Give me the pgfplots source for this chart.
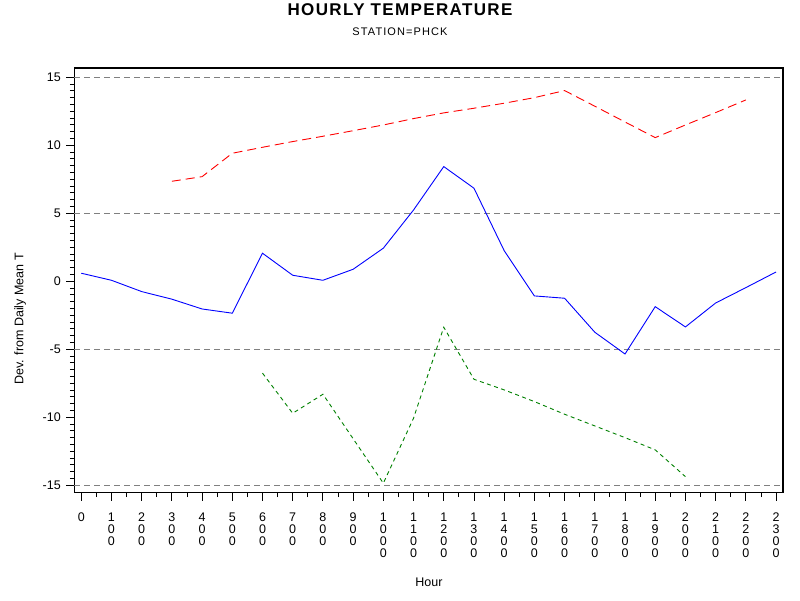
\documentclass[border=0pt]{standalone}
\usepackage{fontspec}
\setmainfont{Liberation Sans}
\usepackage{pgfplots}
\pgfplotsset{compat=1.18}
\definecolor{sasred}{RGB}{255,0,0}
\definecolor{sasblue}{RGB}{0,0,255}
\definecolor{sasgreen}{RGB}{0,128,0}
\definecolor{refgray}{RGB}{128,128,128}
\begin{document}
\begin{tikzpicture}[x=1pt,y=1pt]
\path[use as bounding box] (0,0) rectangle (800,600);
\begin{axis}[
  at={(74.3pt,107.3pt)}, anchor=south west,
  scale only axis, width=708.7pt, height=424.7pt,
  xmin=-23, xmax=2323, ymin=-15.55, ymax=15.68,
  xtick={0,100,...,2300},
  xticklabels={0,{1\\0\\0},{2\\0\\0},{3\\0\\0},{4\\0\\0},{5\\0\\0},{6\\0\\0},{7\\0\\0},{8\\0\\0},{9\\0\\0},
    {1\\0\\0\\0},{1\\1\\0\\0},{1\\2\\0\\0},{1\\3\\0\\0},{1\\4\\0\\0},{1\\5\\0\\0},{1\\6\\0\\0},{1\\7\\0\\0},
    {1\\8\\0\\0},{1\\9\\0\\0},{2\\0\\0\\0},{2\\1\\0\\0},{2\\2\\0\\0},{2\\3\\0\\0}},
  ytick={-15,-10,...,15},
  minor x tick num=1, minor y tick num=9,
  xtick pos=bottom, ytick pos=left,
  tick align=outside,
  major tick length=8pt, minor tick length=4.5pt,
  tick style={black, line width=0.9pt},
  axis line style={line width=1.1pt},
  tick label style={font=\fontsize{12.5}{12}\selectfont},
  xticklabel style={align=center, anchor=north, yshift=-9pt},
  yticklabel style={xshift=-2pt},
  /pgf/number format/assume math mode=true,
  extra y ticks={-15,-5,5,15},
  extra y tick labels={},
  extra y tick style={grid=major, major tick length=0pt,
    major grid style={refgray, dash pattern=on 6pt off 4pt, line width=0.9pt}},
]
% mean deviation
\addplot[sasblue, line width=0.9pt] coordinates {
(0,0.59) (100,0.07) (200,-0.76) (300,-1.32) (400,-2.04) (500,-2.35)
(600,2.06) (700,0.44) (800,0.07) (900,0.88) (1000,2.43) (1100,5.24)
(1200,8.43) (1300,6.84) (1400,2.25) (1500,-1.08) (1600,-1.25) (1700,-3.75)
(1800,-5.35) (1900,-1.87) (2000,-3.36) (2100,-1.60) (2200,-0.47) (2300,0.68)};
% upper
\addplot[sasred, line width=0.9pt, dash pattern=on 9pt off 5pt] coordinates {
(300,7.35) (400,7.69) (500,9.41) (600,9.85) (700,10.27) (800,10.66)
(900,11.07) (1000,11.49) (1100,11.96) (1200,12.38) (1300,12.72) (1400,13.09)
(1500,13.50) (1600,14.02) (1700,12.87) (1800,11.71) (1900,10.56) (2000,11.49)
(2100,12.40) (2200,13.33)};
% lower
\addplot[sasgreen, line width=0.9pt, dash pattern=on 4pt off 3.5pt] coordinates {
(600,-6.76) (700,-9.71) (800,-8.31) (900,-11.58) (1000,-14.85) (1100,-10.07)
(1200,-3.38) (1300,-7.21) (1400,-7.99) (1500,-8.85) (1600,-9.78) (1700,-10.64)
(1800,-11.50) (1900,-12.40) (2000,-14.37)};
\end{axis}
\node[anchor=base, font=\fontsize{17}{20}\selectfont\bfseries\addfontfeatures{LetterSpace=8}] at (400,584) {HOURLY TEMPERATURE};
\node[anchor=base, font=\fontsize{11}{13}\selectfont\addfontfeatures{LetterSpace=10}] at (400,564) {STATION=PHCK};
\node[anchor=base, font=\fontsize{12.5}{14}\selectfont] at (429,13.3) {Hour};
\node[anchor=base, rotate=90, font=\fontsize{12.5}{14}\selectfont] at (23.5,281) {Dev. from Daily Mean T};
\end{tikzpicture}
\end{document}
